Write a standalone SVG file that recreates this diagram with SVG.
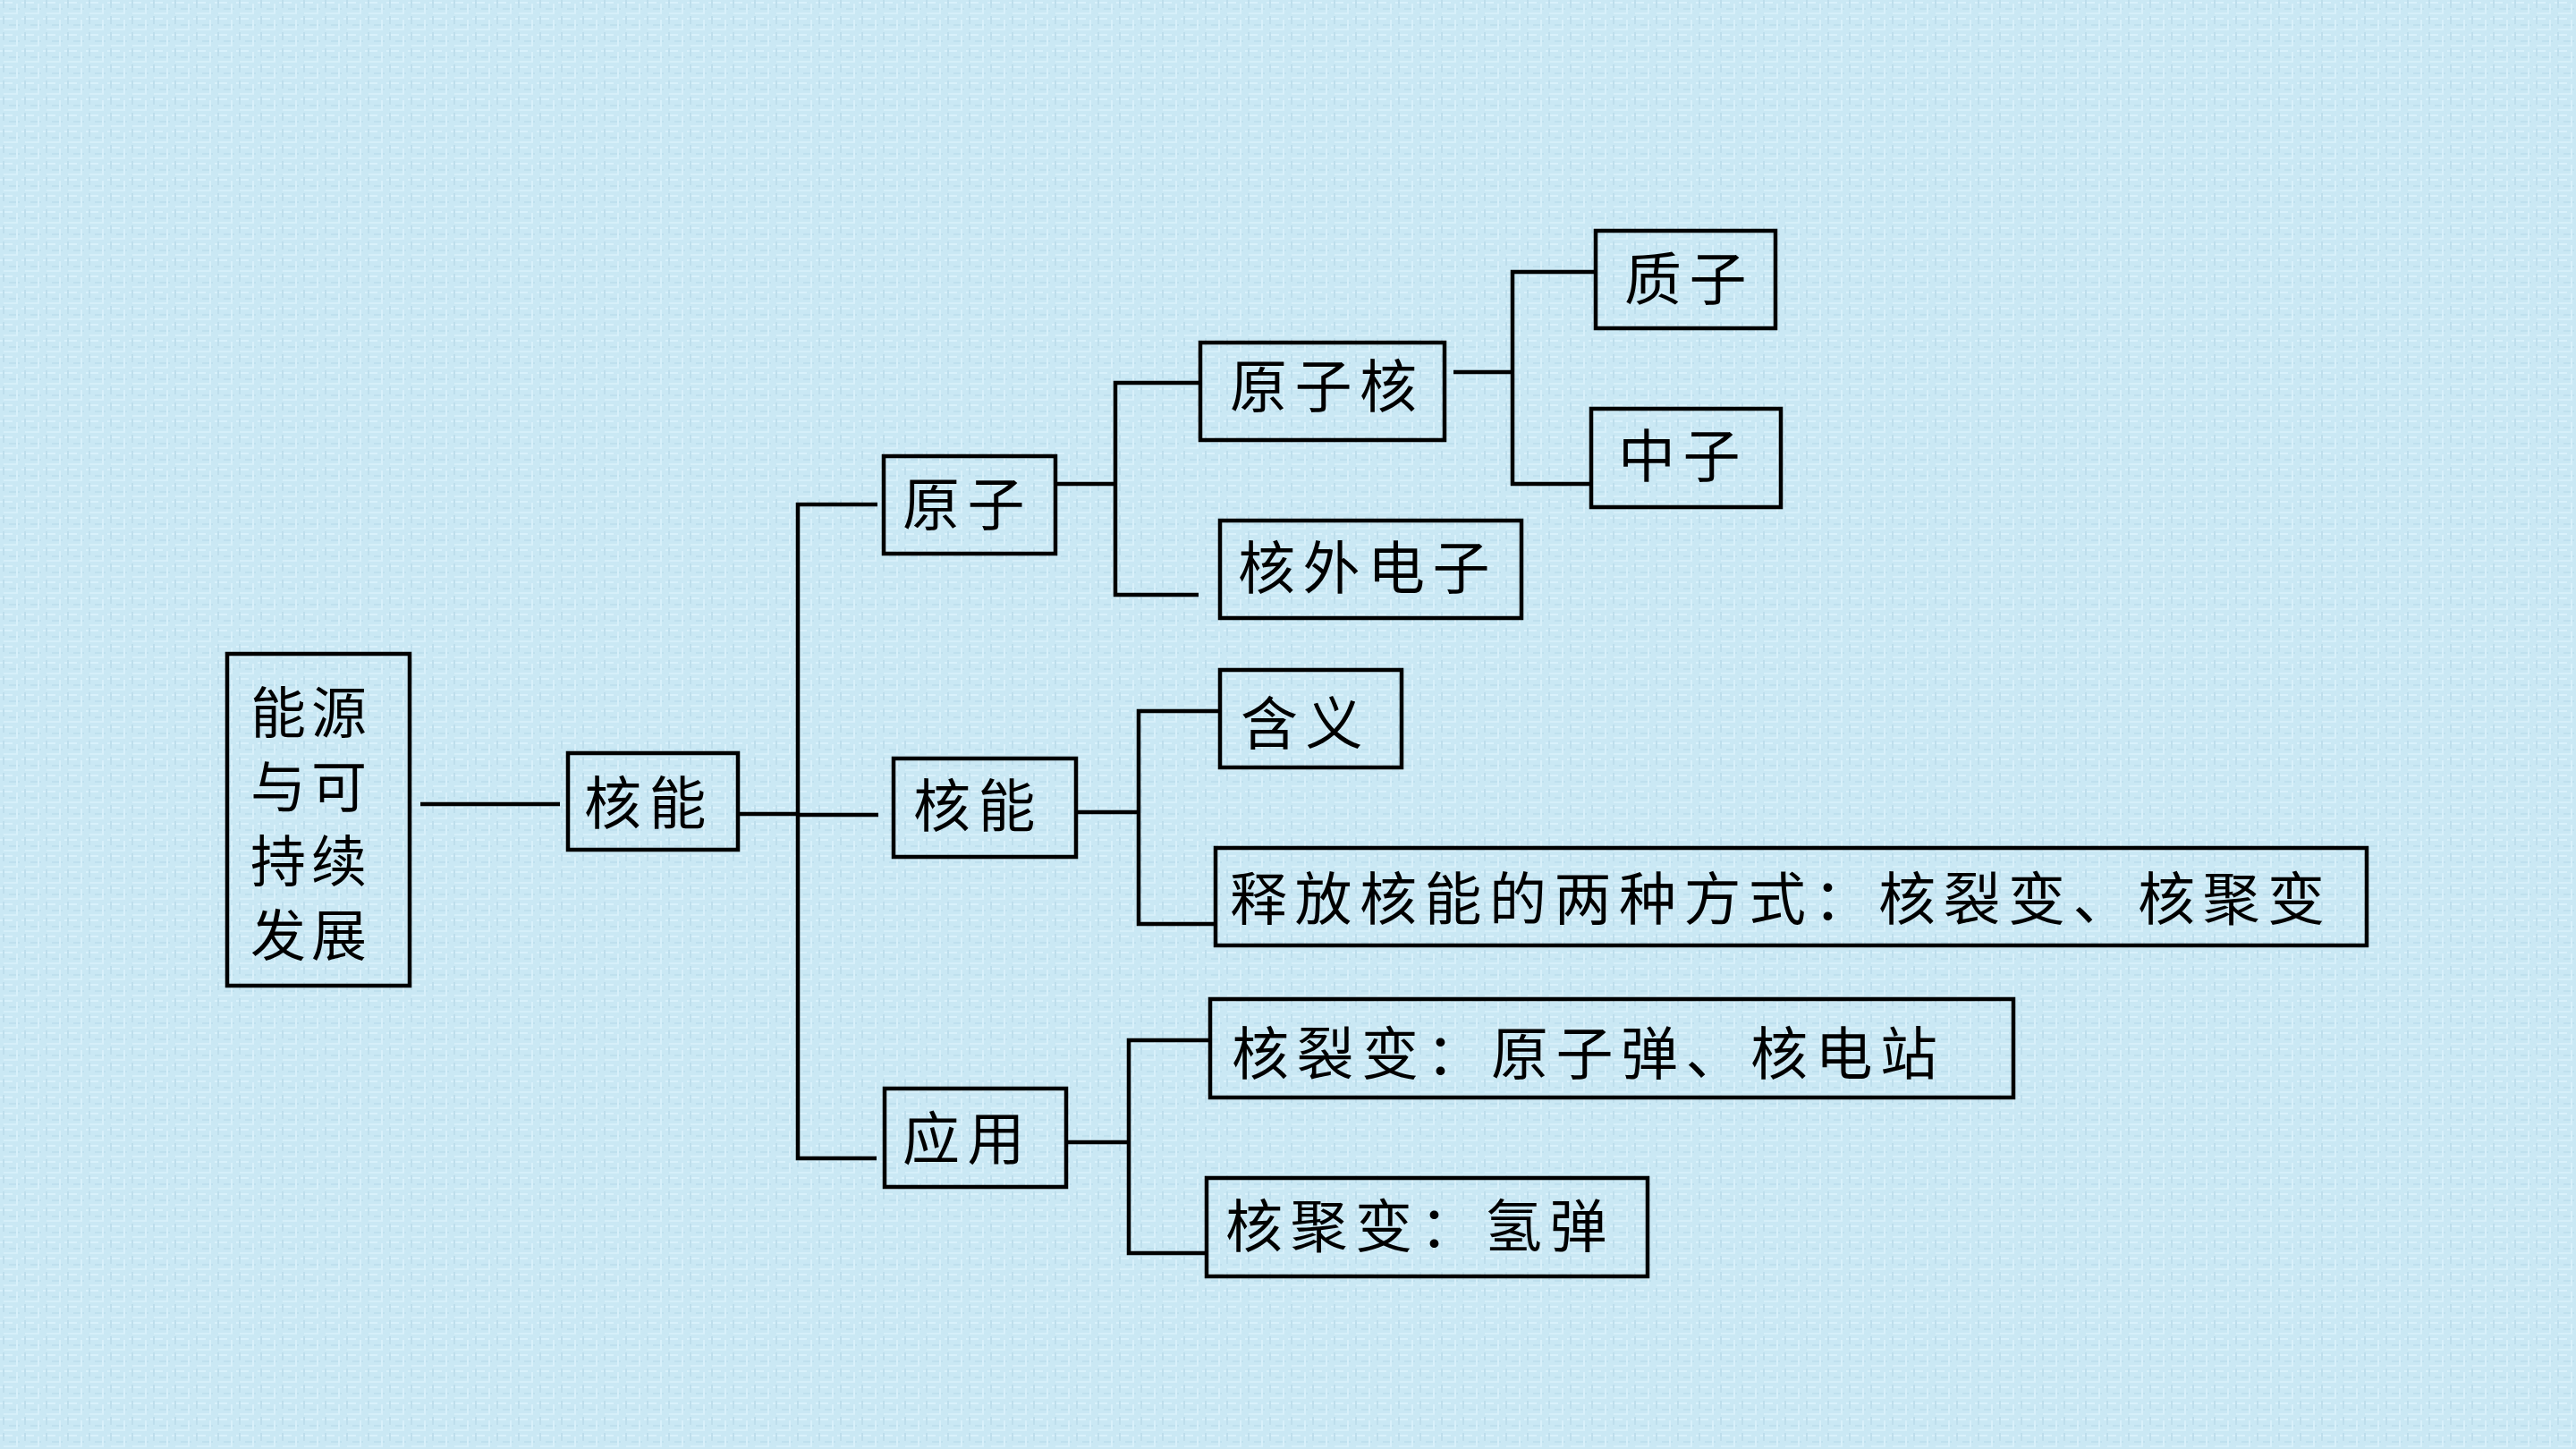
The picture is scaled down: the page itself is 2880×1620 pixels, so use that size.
<svg xmlns="http://www.w3.org/2000/svg" width="2880" height="1620" viewBox="0 0 2880 1620">
<defs>
<pattern id="tex" x="0" y="0" width="24" height="18" patternUnits="userSpaceOnUse">
<rect width="24" height="18" fill="#cae8f4"/>
<rect x="0" y="2" width="14" height="2" fill="#d9f1fb"/>
<rect x="10" y="9" width="12" height="2" fill="#bfe0ee"/>
<rect x="4" y="14" width="16" height="2" fill="#d6eff9"/>
<rect x="3" y="0" width="2" height="9" fill="#bedeec"/>
<rect x="18" y="4" width="2" height="11" fill="#d8f0fa"/>
</pattern>
<style>
.box{fill:none;stroke:#000;stroke-width:4.5}
.ln{fill:none;stroke:#000;stroke-width:4.5}
.t{font-family:"Noto Sans CJK SC","Noto Sans CJK JP",sans-serif;font-size:64px;fill:#000;dominant-baseline:central;letter-spacing:8.5px}
.m{letter-spacing:6px;font-size:62px}
</style>
</defs>
<rect width="2880" height="1620" fill="url(#tex)"/>
<g id="connectors">
<line class="ln" x1="470" y1="899" x2="626" y2="899"/>
<line class="ln" x1="825" y1="910" x2="892" y2="910"/>
<polyline class="ln" points="981,564 892,564 892,1295 980,1295"/>
<line class="ln" x1="892" y1="911" x2="982" y2="911"/>
<line class="ln" x1="1180" y1="541" x2="1247" y2="541"/>
<polyline class="ln" points="1342,428 1247,428 1247,665 1340,665"/>
<line class="ln" x1="1625" y1="416" x2="1691" y2="416"/>
<polyline class="ln" points="1784,304 1691,304 1691,541 1780,541"/>
<line class="ln" x1="1203" y1="908" x2="1273" y2="908"/>
<polyline class="ln" points="1364,795 1273,795 1273,1033 1360,1033"/>
<line class="ln" x1="1192" y1="1277" x2="1262" y2="1277"/>
<polyline class="ln" points="1353,1163 1262,1163 1262,1401 1349,1401"/>
</g>
<g id="n-main">
<rect class="box" x="254" y="731" width="204" height="371"/>
<text class="t m" x="280" y="793">能源</text>
<text class="t m" x="280" y="876">与可</text>
<text class="t m" x="280" y="959">持续</text>
<text class="t m" x="280" y="1042">发展</text>
</g>
<g id="n-heneng1">
<rect class="box" x="635" y="842" width="190" height="108"/>
<text class="t" x="653" y="893">核能</text>
</g>
<g id="n-yuanzi">
<rect class="box" x="988" y="510" width="192" height="109"/>
<text class="t" x="1009" y="559">原子</text>
</g>
<g id="n-yuanzihe">
<rect class="box" x="1342" y="383" width="273" height="109"/>
<text class="t" x="1375" y="427">原子核</text>
</g>
<g id="n-hewaidianzi">
<rect class="box" x="1364" y="582" width="337" height="109"/>
<text class="t" x="1384" y="630">核外电子</text>
</g>
<g id="n-zhizi">
<rect class="box" x="1784" y="258" width="201" height="109"/>
<text class="t" x="1816" y="307">质子</text>
</g>
<g id="n-zhongzi">
<rect class="box" x="1779" y="457" width="212" height="110"/>
<text class="t" x="1809" y="505">中子</text>
</g>
<g id="n-heneng2">
<rect class="box" x="999" y="848" width="204" height="110"/>
<text class="t" x="1021" y="896">核能</text>
</g>
<g id="n-hanyi">
<rect class="box" x="1364" y="749" width="203" height="109"/>
<text class="t" x="1387" y="804">含义</text>
</g>
<g id="n-shifang">
<rect class="box" x="1359" y="948" width="1287" height="109"/>
<text class="t" x="1375" y="1000">释放核能的两种方式：核裂变、核聚变</text>
</g>
<g id="n-yingyong">
<rect class="box" x="989" y="1217" width="203" height="110"/>
<text class="t" x="1009" y="1268">应用</text>
</g>
<g id="n-heliebian">
<rect class="box" x="1353" y="1117" width="898" height="110"/>
<text class="t" x="1377" y="1173">核裂变：原子弹、核电站</text>
</g>
<g id="n-hejubian">
<rect class="box" x="1349" y="1317" width="493" height="110"/>
<text class="t" x="1370" y="1366">核聚变：氢弹</text>
</g>
</svg>
